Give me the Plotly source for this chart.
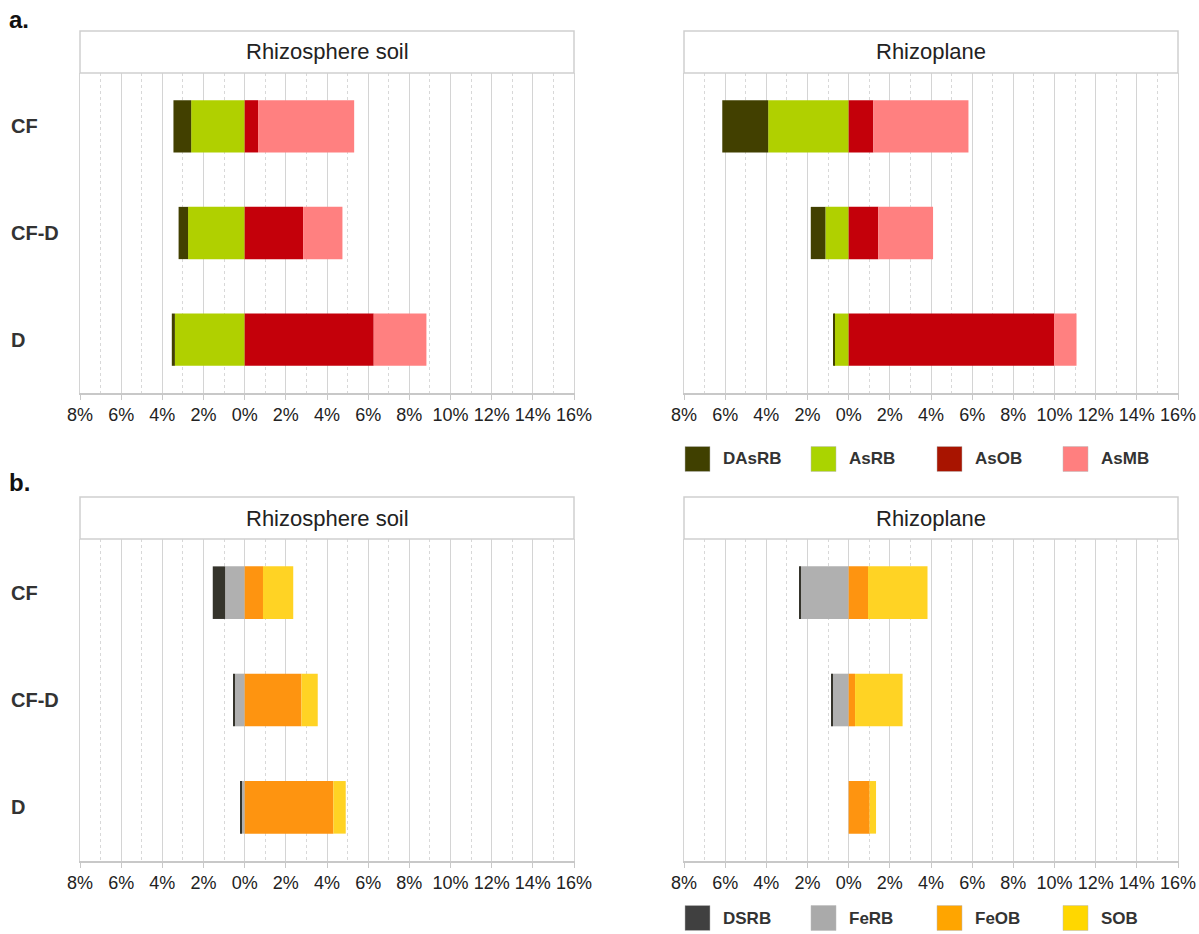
import plotly.graph_objects as go

W, H = 1199, 934
FONT = "Liberation Sans, Arial, sans-serif"

groups = ["CF", "CF-D", "D"]

# x-axis ticks (relative abundance, shown as absolute % on both sides of 0)
tick_vals = [-8, -6, -4, -2, 0, 2, 4, 6, 8, 10, 12, 14, 16]
tick_text = ["8%", "6%", "4%", "2%", "0%", "2%", "4%", "6%", "8%", "10%", "12%", "14%", "16%"]

# a. arsenic-related guilds (% relative abundance)
soil_DAsRB = [0.86, 0.46, 0.15]
soil_AsRB = [2.60, 2.75, 3.39]
soil_AsOB = [0.65, 2.84, 6.27]
soil_AsMB = [4.67, 1.91, 2.56]

plane_DAsRB = [2.23, 0.71, 0.05]
plane_AsRB = [3.91, 1.13, 0.71]
plane_AsOB = [1.20, 1.44, 9.98]
plane_AsMB = [4.62, 2.66, 1.09]

# b. iron/sulfur-related guilds (% relative abundance)
soil_DSRB = [0.60, 0.06, 0.06]
soil_FeRB = [0.95, 0.47, 0.15]
soil_FeOB = [0.89, 2.76, 4.31]
soil_SOB = [1.47, 0.79, 0.60]

plane_DSRB = [0.06, 0.10, 0.0]
plane_FeRB = [2.34, 0.76, 0.0]
plane_FeOB = [0.94, 0.31, 1.02]
plane_SOB = [2.89, 2.31, 0.31]

panel_titles = ["Rhizosphere soil", "Rhizoplane"]
legend_a = ["DAsRB", "AsRB", "AsOB", "AsMB"]
legend_b = ["DSRB", "FeRB", "FeOB", "SOB"]

colors = {
    "DAsRB": "#424000", "AsRB": "#b0d000", "AsOB": "#c4000a", "AsMB": "#ff8080",
    "DSRB": "#35342c", "FeRB": "#b0b0b0", "FeOB": "#fe9410", "SOB": "#ffd324",
}
legend_colors = {
    "DAsRB": "#404000", "AsRB": "#aad400", "AsOB": "#a81400", "AsMB": "#ff7f7f",
    "DSRB": "#404040", "FeRB": "#aaaaaa", "FeOB": "#ffa500", "SOB": "#ffd700",
}


def px_x(p):
    return p / W


def px_y(p):
    return 1 - p / H


# panel geometry in pixels: (left, right) and (top, bottom) of plot areas
cols = [(80, 574), (684, 1178)]
rows = [(73, 393), (539, 861)]
title_boxes = [(31, 73), (497, 539)]

fig = go.Figure()

panels = [
    # (row, col, [(name, values, sign), ...]) in stacking order from 0 outward
    (0, 0, [("AsRB", soil_AsRB, -1), ("DAsRB", soil_DAsRB, -1),
            ("AsOB", soil_AsOB, 1), ("AsMB", soil_AsMB, 1)]),
    (0, 1, [("AsRB", plane_AsRB, -1), ("DAsRB", plane_DAsRB, -1),
            ("AsOB", plane_AsOB, 1), ("AsMB", plane_AsMB, 1)]),
    (1, 0, [("FeRB", soil_FeRB, -1), ("DSRB", soil_DSRB, -1),
            ("FeOB", soil_FeOB, 1), ("SOB", soil_SOB, 1)]),
    (1, 1, [("FeRB", plane_FeRB, -1), ("DSRB", plane_DSRB, -1),
            ("FeOB", plane_FeOB, 1), ("SOB", plane_SOB, 1)]),
]

layout_axes = {}
shapes = []
annotations = []

for i, (r, c, series) in enumerate(panels):
    n = i + 1
    xname = "x" if n == 1 else f"x{n}"
    yname = "y" if n == 1 else f"y{n}"
    xkey = "xaxis" if n == 1 else f"xaxis{n}"
    ykey = "yaxis" if n == 1 else f"yaxis{n}"
    left, right = cols[c]
    top, bottom = rows[r]

    for name, vals, sign in series:
        fig.add_trace(go.Bar(
            y=groups, x=[sign * v for v in vals], orientation="h",
            name=name, marker=dict(color=colors[name], line=dict(width=0)),
            width=0.49, xaxis=xname, yaxis=yname, showlegend=False,
            hoverinfo="skip",
        ))

    layout_axes[xkey] = dict(
        domain=[px_x(left), px_x(right)], anchor=yname, range=[-8, 16],
        automargin=False,
        tickmode="array", tickvals=tick_vals, ticktext=tick_text,
        showgrid=True, gridcolor="#d4d4d4", gridwidth=1,
        minor=dict(tickmode="linear", tick0=-8, dtick=1, showgrid=True,
                   gridcolor="#d8d8d8", griddash="dot", gridwidth=1),
        zeroline=False, showline=True, linecolor="#c8c8c8", linewidth=1.5,
        ticks="outside", ticklen=5, tickcolor="#c8c8c8",
        tickfont=dict(family=FONT, size=18, color="#222222"),
        fixedrange=True,
    )
    layout_axes[ykey] = dict(
        domain=[px_y(bottom), px_y(top)], anchor=xname, type="category",
        automargin=False,
        categoryorder="array", categoryarray=groups, range=[2.5, -0.5],
        showticklabels=False, showgrid=False, zeroline=False,
        showline=True, mirror=True, linecolor="#d4d4d4", linewidth=1,
        ticks="", fixedrange=True,
    )

    # panel header box with title
    bt, bb = title_boxes[r]
    shapes.append(dict(type="rect", xref="paper", yref="paper",
                       x0=px_x(left), x1=px_x(right), y0=px_y(bb), y1=px_y(bt),
                       line=dict(color="#cfcfcf", width=1.5), fillcolor="white"))
    annotations.append(dict(xref="paper", yref="paper",
                            x=px_x((left + right) / 2), y=px_y((bt + bb) / 2),
                            text=panel_titles[c], showarrow=False,
                            xanchor="center", yanchor="middle",
                            font=dict(family=FONT, size=22, color="#222222")))

    # group labels on the left of each row of panels
    if c == 0:
        for g in groups:
            annotations.append(dict(xref="paper", yref=yname, x=px_x(9), y=g,
                                    text=g, showarrow=False, xanchor="left",
                                    yanchor="middle",
                                    font=dict(family=FONT, size=20, color="#333333",
                                              weight="bold")))

# panel letters
for letter, ypx in [("a.", 19), ("b.", 482)]:
    annotations.append(dict(xref="paper", yref="paper", x=px_x(7), y=px_y(ypx),
                            text=letter, showarrow=False, xanchor="left",
                            yanchor="middle",
                            font=dict(family=FONT, size=24, color="#111111",
                                      weight="bold")))

# legends under the right-hand panels
legend_x = [685, 811, 937, 1063]
for names, ycenter in [(legend_a, 459), (legend_b, 918)]:
    for name, lx in zip(names, legend_x):
        shapes.append(dict(type="rect", xref="paper", yref="paper",
                           x0=px_x(lx), x1=px_x(lx + 25),
                           y0=px_y(ycenter + 12.5), y1=px_y(ycenter - 12.5),
                           line=dict(color="#bbbbbb", width=0.5),
                           fillcolor=legend_colors[name]))
        annotations.append(dict(xref="paper", yref="paper", x=px_x(lx + 36),
                                y=px_y(ycenter), text=name, showarrow=False,
                                xanchor="left", yanchor="middle",
                                font=dict(family=FONT, size=17, color="#333333",
                                          weight="bold")))

fig.update_layout(
    width=W, height=H, autosize=False,
    margin=dict(l=0, r=0, t=0, b=0, pad=0, autoexpand=False),
    paper_bgcolor="white", plot_bgcolor="white",
    barmode="relative",
    showlegend=False,
    shapes=shapes,
    annotations=annotations,
    **layout_axes,
)

fig.write_html("out.html", config={"displayModeBar": False})
